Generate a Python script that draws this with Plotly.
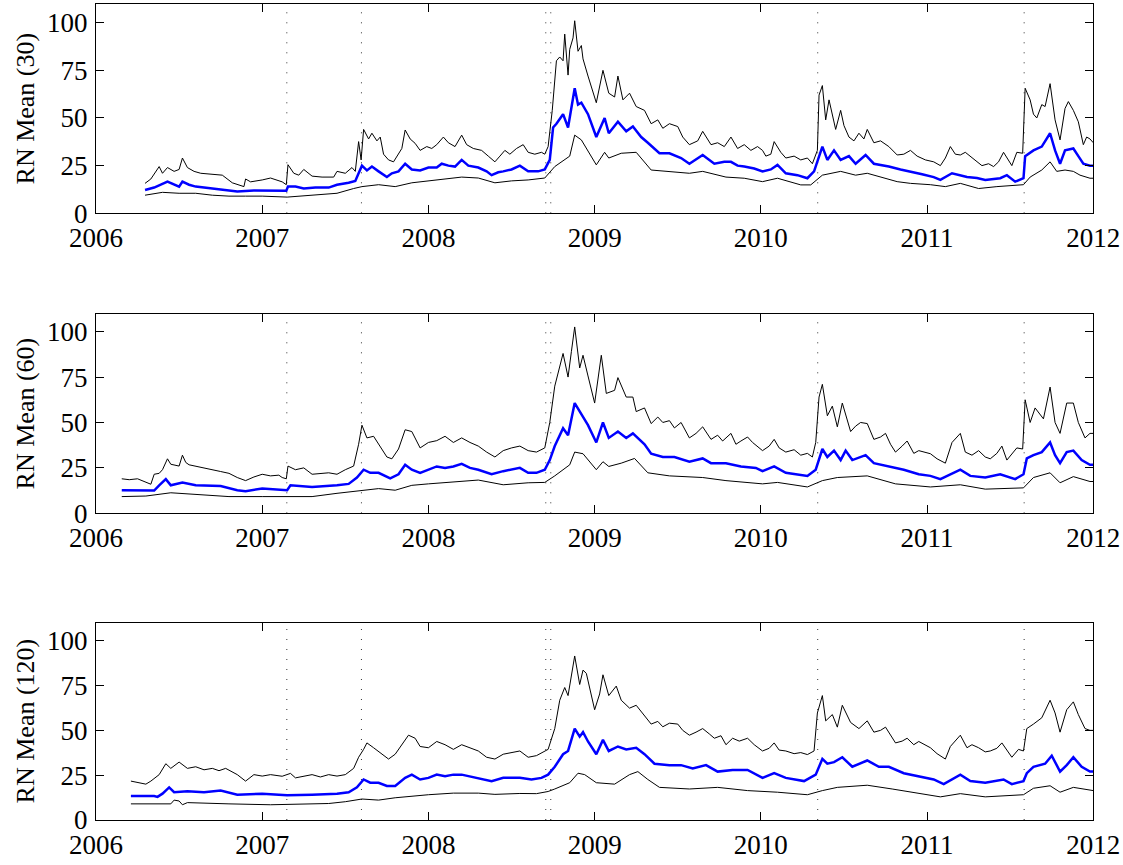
import plotly.graph_objects as go

# ---------------- data (decimal years, values) ----------------
EVENTS = [2007.148, 2007.597, 2008.706, 2008.736, 2010.342, 2011.584]
YLABELS = ["RN Mean (30)", "RN Mean (60)", "RN Mean (120)"]
XTICKS = [2006, 2007, 2008, 2009, 2010, 2011, 2012]
YTICKS = [0, 25, 50, 75, 100]

# Panel 1 (30)
p1_up_t = [2006.295, 2006.33, 2006.38, 2006.40, 2006.43, 2006.47, 2006.50, 2006.52, 2006.55, 2006.59, 2006.63, 2006.70, 2006.76, 2006.82, 2006.86, 2006.89, 2006.90, 2006.93, 2007.00, 2007.05, 2007.12, 2007.145, 2007.155, 2007.19, 2007.22, 2007.25, 2007.30, 2007.36, 2007.43, 2007.45, 2007.50, 2007.54, 2007.56, 2007.58, 2007.595, 2007.61, 2007.64, 2007.66, 2007.69, 2007.71, 2007.73, 2007.76, 2007.79, 2007.81, 2007.84, 2007.86, 2007.89, 2007.92, 2007.95, 2007.99, 2008.02, 2008.05, 2008.09, 2008.12, 2008.16, 2008.20, 2008.23, 2008.27, 2008.32, 2008.36, 2008.40, 2008.43, 2008.46, 2008.49, 2008.53, 2008.57, 2008.60, 2008.64, 2008.68, 2008.70, 2008.72, 2008.745, 2008.77, 2008.79, 2008.81, 2008.82, 2008.84, 2008.85, 2008.87, 2008.88, 2008.90, 2008.92, 2008.93, 2008.96, 2008.98, 2009.01, 2009.05, 2009.085, 2009.12, 2009.14, 2009.17, 2009.21, 2009.25, 2009.30, 2009.34, 2009.38, 2009.41, 2009.45, 2009.50, 2009.53, 2009.57, 2009.62, 2009.65, 2009.70, 2009.74, 2009.78, 2009.82, 2009.86, 2009.90, 2009.94, 2009.98, 2010.01, 2010.03, 2010.06, 2010.08, 2010.12, 2010.15, 2010.20, 2010.24, 2010.28, 2010.31, 2010.34, 2010.35, 2010.37, 2010.39, 2010.41, 2010.45, 2010.48, 2010.50, 2010.53, 2010.56, 2010.59, 2010.62, 2010.64, 2010.68, 2010.72, 2010.77, 2010.82, 2010.86, 2010.90, 2010.94, 2010.99, 2011.04, 2011.08, 2011.11, 2011.14, 2011.17, 2011.20, 2011.23, 2011.26, 2011.30, 2011.33, 2011.37, 2011.40, 2011.43, 2011.46, 2011.51, 2011.54, 2011.575, 2011.59, 2011.62, 2011.64, 2011.66, 2011.69, 2011.71, 2011.74, 2011.77, 2011.80, 2011.83, 2011.85, 2011.88, 2011.91, 2011.94, 2011.96, 2011.98, 2012.0]
p1_up_v = [15.7, 18, 24.5, 21, 24, 22, 23, 29, 24, 22, 21, 20.5, 20, 16, 15, 14, 18, 16.5, 17.5, 18.5, 16.5, 15, 25.5, 21, 20, 23, 19.5, 19, 19, 22, 21, 24, 22, 37.6, 28, 44, 39, 42, 38, 40, 31, 28, 27, 30, 34, 43.7, 39, 36.7, 33, 35, 34, 36, 40, 37, 35, 41, 36, 34, 33, 30, 27, 30, 33, 31, 34, 36, 32, 31, 32, 31, 35, 54, 80, 82, 80, 94, 72.5, 86, 92, 101, 85, 88, 81, 72, 66, 58, 75, 63, 61, 72, 59.5, 63, 56, 54, 47, 49, 44.6, 47, 45.5, 40, 36, 38, 43, 36, 37, 35, 40, 34, 36, 33, 35, 33, 30, 31, 37.6, 32, 29, 30, 28, 29, 26, 33, 62, 67, 49, 59.5, 44, 54, 46, 40, 38, 42, 39, 44, 37, 38, 35, 30.6, 31, 33, 30, 28, 27, 25, 29, 35, 31, 30.6, 32, 30, 27, 25, 26, 24.5, 27, 32, 25, 32, 31.5, 65.6, 59.5, 52, 50, 57, 56, 68, 49, 38.5, 55, 58.6, 54, 48, 36, 40, 39, 37]

p1_mid_t = [2006.295, 2006.35, 2006.43, 2006.47, 2006.50, 2006.52, 2006.56, 2006.60, 2006.70, 2006.78, 2006.85, 2006.95, 2007.05, 2007.145, 2007.155, 2007.20, 2007.25, 2007.32, 2007.40, 2007.45, 2007.52, 2007.56, 2007.58, 2007.60, 2007.63, 2007.66, 2007.70, 2007.75, 2007.78, 2007.82, 2007.86, 2007.90, 2007.95, 2008.00, 2008.05, 2008.08, 2008.12, 2008.16, 2008.20, 2008.24, 2008.30, 2008.35, 2008.38, 2008.42, 2008.45, 2008.50, 2008.55, 2008.60, 2008.66, 2008.70, 2008.73, 2008.75, 2008.77, 2008.81, 2008.84, 2008.86, 2008.88, 2008.90, 2008.92, 2008.96, 2009.01, 2009.06, 2009.085, 2009.14, 2009.19, 2009.23, 2009.28, 2009.32, 2009.36, 2009.39, 2009.45, 2009.52, 2009.57, 2009.65, 2009.72, 2009.78, 2009.82, 2009.86, 2009.90, 2009.96, 2010.01, 2010.06, 2010.10, 2010.15, 2010.22, 2010.28, 2010.32, 2010.37, 2010.40, 2010.44, 2010.48, 2010.53, 2010.57, 2010.63, 2010.68, 2010.72, 2010.77, 2010.84, 2010.90, 2010.97, 2011.04, 2011.08, 2011.15, 2011.20, 2011.24, 2011.30, 2011.35, 2011.44, 2011.48, 2011.53, 2011.58, 2011.59, 2011.64, 2011.69, 2011.74, 2011.77, 2011.80, 2011.83, 2011.88, 2011.91, 2011.94, 2011.98, 2012.0]
p1_mid_v = [12.2, 13.5, 16.6, 15, 14, 16.6, 15, 14, 13, 12, 11.5, 12, 12, 11.8, 14, 14, 13, 13.5, 13.5, 15, 16, 17, 21, 25, 22.5, 24.5, 22, 19, 21, 22, 26, 23, 22.5, 24, 24, 26, 25, 24.5, 28, 25, 24, 22, 20, 21.5, 22, 23, 25, 22, 22, 23, 28, 45, 47, 52, 45, 55, 65.6, 57, 58, 52, 40, 50, 42, 48, 43, 45.5, 40, 37, 34, 31.5, 31.5, 29, 26, 30.6, 26, 27, 27, 25, 24.5, 23.5, 22, 23, 25.4, 21, 20, 18.4, 22, 35, 28, 33, 28, 30, 26, 30.6, 26, 25.5, 24.5, 23, 22, 20.5, 19, 17.5, 21, 20, 19, 18.5, 17.5, 18.4, 20, 16.6, 18.4, 30, 33, 35, 42, 33, 26, 33, 34, 30, 26, 25, 25]

p1_low_t = [2006.295, 2006.40, 2006.50, 2006.60, 2006.70, 2006.80, 2006.90, 2007.00, 2007.15, 2007.30, 2007.45, 2007.55, 2007.60, 2007.70, 2007.80, 2007.90, 2008.00, 2008.10, 2008.20, 2008.30, 2008.40, 2008.50, 2008.60, 2008.70, 2008.76, 2008.85, 2008.88, 2008.92, 2008.96, 2009.01, 2009.06, 2009.085, 2009.16, 2009.25, 2009.34, 2009.45, 2009.57, 2009.65, 2009.79, 2009.90, 2010.01, 2010.10, 2010.24, 2010.30, 2010.37, 2010.48, 2010.57, 2010.64, 2010.73, 2010.82, 2010.90, 2011.02, 2011.11, 2011.20, 2011.31, 2011.42, 2011.58, 2011.62, 2011.69, 2011.74, 2011.78, 2011.83, 2011.88, 2011.92, 2011.98, 2012.0]
p1_low_v = [9.5, 11, 10.5, 10.5, 9.5, 9, 9, 9, 8.5, 9.5, 10.5, 13, 14, 15, 14, 16, 17, 18, 19, 18.5, 16, 17, 17.5, 18.5, 24.5, 30, 41, 38.5, 33, 25.4, 32, 29, 31.5, 32, 22.7, 22, 21, 22, 19, 18.4, 16.6, 18.4, 14.9, 14.9, 20, 22, 20, 21, 19, 16.6, 15.7, 15, 14, 15.7, 13, 14, 15, 19, 22.7, 27, 22, 22.7, 22, 20, 18.4, 18.4]

# Panel 2 (60)
p2_up_t = [2006.155, 2006.20, 2006.25, 2006.28, 2006.30, 2006.33, 2006.35, 2006.38, 2006.40, 2006.43, 2006.45, 2006.47, 2006.50, 2006.52, 2006.54, 2006.56, 2006.60, 2006.65, 2006.70, 2006.75, 2006.80, 2006.85, 2006.90, 2006.95, 2007.00, 2007.05, 2007.10, 2007.12, 2007.145, 2007.155, 2007.20, 2007.25, 2007.30, 2007.35, 2007.40, 2007.45, 2007.50, 2007.55, 2007.58, 2007.60, 2007.63, 2007.67, 2007.70, 2007.75, 2007.78, 2007.82, 2007.86, 2007.90, 2007.95, 2008.00, 2008.05, 2008.10, 2008.15, 2008.20, 2008.25, 2008.30, 2008.35, 2008.40, 2008.45, 2008.50, 2008.55, 2008.60, 2008.65, 2008.70, 2008.73, 2008.76, 2008.81, 2008.84, 2008.86, 2008.88, 2008.91, 2008.93, 2008.96, 2009.00, 2009.04, 2009.07, 2009.12, 2009.14, 2009.19, 2009.23, 2009.25, 2009.30, 2009.34, 2009.38, 2009.41, 2009.45, 2009.48, 2009.52, 2009.57, 2009.61, 2009.65, 2009.70, 2009.74, 2009.77, 2009.82, 2009.85, 2009.88, 2009.92, 2009.95, 2010.01, 2010.05, 2010.08, 2010.11, 2010.15, 2010.20, 2010.24, 2010.28, 2010.31, 2010.33, 2010.35, 2010.37, 2010.40, 2010.43, 2010.46, 2010.49, 2010.54, 2010.57, 2010.60, 2010.64, 2010.68, 2010.72, 2010.75, 2010.78, 2010.81, 2010.85, 2010.88, 2010.92, 2010.95, 2011.02, 2011.06, 2011.11, 2011.15, 2011.20, 2011.23, 2011.27, 2011.31, 2011.35, 2011.38, 2011.42, 2011.45, 2011.48, 2011.54, 2011.575, 2011.59, 2011.62, 2011.65, 2011.70, 2011.74, 2011.77, 2011.80, 2011.84, 2011.88, 2011.91, 2011.95, 2011.98, 2012.0]
p2_up_v = [19, 18.5, 19, 18, 17, 16, 21.5, 22, 24, 30, 27, 26.7, 26, 32, 28, 26.7, 26, 25, 24, 23, 22, 19.7, 18, 20, 21.5, 20.6, 21, 19.7, 19, 26, 24, 25, 21.5, 22, 22.3, 21.5, 24, 26, 38, 48.5, 41.5, 42.4, 38, 31, 30, 35.4, 46, 45, 36, 39, 40, 42.4, 39, 41.5, 39, 37, 33.7, 31, 34.5, 36, 37, 34.5, 33.7, 36, 50, 70, 88, 75, 89, 102.6, 80, 87, 75.6, 60.7, 87, 66, 67.7, 74.7, 64, 64, 56, 58, 49.4, 53, 50, 51, 47, 50, 41.5, 44, 47.6, 40.7, 43, 39.8, 44, 38, 39.8, 42, 39, 34.5, 37, 40.7, 36, 33.7, 35, 32, 33, 31, 39, 64, 71, 53.7, 59, 47.6, 60.7, 45, 48, 50, 49.4, 40.7, 42, 44, 38, 33.7, 37, 39.8, 33, 34.5, 32.8, 30, 27.6, 39, 44, 33.7, 32, 34.5, 31, 30, 33, 37, 29.3, 36, 35.4, 62.5, 50, 58, 52, 69.5, 50, 44, 60.7, 60.7, 50, 41.5, 44, 44]

p2_mid_t = [2006.155, 2006.35, 2006.38, 2006.42, 2006.45, 2006.52, 2006.60, 2006.75, 2006.85, 2006.90, 2007.00, 2007.15, 2007.17, 2007.30, 2007.45, 2007.52, 2007.57, 2007.61, 2007.65, 2007.70, 2007.77, 2007.82, 2007.86, 2007.90, 2007.95, 2008.00, 2008.05, 2008.10, 2008.15, 2008.20, 2008.25, 2008.30, 2008.38, 2008.45, 2008.55, 2008.60, 2008.65, 2008.70, 2008.73, 2008.76, 2008.81, 2008.84, 2008.88, 2008.92, 2008.96, 2009.01, 2009.05, 2009.085, 2009.14, 2009.19, 2009.23, 2009.30, 2009.34, 2009.41, 2009.48, 2009.57, 2009.65, 2009.70, 2009.79, 2009.88, 2009.97, 2010.01, 2010.08, 2010.15, 2010.28, 2010.33, 2010.37, 2010.40, 2010.44, 2010.48, 2010.51, 2010.55, 2010.63, 2010.68, 2010.77, 2010.86, 2010.95, 2011.02, 2011.08, 2011.20, 2011.26, 2011.35, 2011.44, 2011.53, 2011.58, 2011.60, 2011.64, 2011.69, 2011.74, 2011.77, 2011.80, 2011.84, 2011.88, 2011.93, 2011.98, 2012.0]
p2_mid_v = [12.7, 12.5, 15.4, 18.8, 15.4, 17, 15.4, 15, 12.7, 12.2, 13.6, 12.7, 15.4, 14.5, 15.4, 16.2, 19.7, 24, 22.3, 22.3, 19.2, 21.5, 26.7, 24, 22.3, 24, 25.8, 25, 25.8, 27.2, 25, 24, 21.5, 23.2, 25, 22.3, 22.3, 24, 29.3, 37, 46.8, 43, 60.7, 54.6, 48.5, 39, 50, 41.5, 45, 41.5, 44, 38, 32.8, 31, 31, 28.4, 30.2, 27.6, 27.6, 25.8, 25, 23.2, 25.8, 22.3, 20.6, 24, 35.4, 31, 34.5, 29.3, 34.5, 29.3, 32, 27.6, 25.8, 24, 21.5, 20.6, 18.8, 24, 20.6, 19.7, 21.5, 18.8, 21.5, 30.2, 32, 33.7, 39, 32, 27.6, 33.7, 34.5, 29.3, 26.7, 26.7]

p2_low_t = [2006.155, 2006.30, 2006.45, 2006.55, 2006.80, 2007.00, 2007.30, 2007.45, 2007.60, 2007.70, 2007.80, 2007.90, 2008.00, 2008.10, 2008.30, 2008.45, 2008.60, 2008.70, 2008.76, 2008.85, 2008.88, 2008.93, 2009.01, 2009.05, 2009.085, 2009.16, 2009.24, 2009.32, 2009.45, 2009.65, 2009.79, 2010.01, 2010.10, 2010.28, 2010.37, 2010.46, 2010.64, 2010.81, 2011.02, 2011.20, 2011.35, 2011.58, 2011.64, 2011.74, 2011.80, 2011.88, 2011.98, 2012.0]
p2_low_v = [9.2, 9.5, 11.3, 10.6, 9.2, 9.2, 9.2, 11, 12.7, 13.6, 12.7, 15.4, 16.2, 17, 18.3, 15.7, 16.8, 17, 20.6, 26.7, 33.7, 32.8, 24, 28.4, 25.8, 27.6, 30.2, 22.3, 20.6, 19.7, 18, 16.2, 17, 14.5, 18, 19.7, 20.6, 16.2, 14.5, 15.7, 13.3, 14, 19.7, 22.3, 16.8, 20.2, 17.5, 17.5]

# Panel 3 (120)
p3_up_t = [2006.21, 2006.25, 2006.30, 2006.33, 2006.38, 2006.42, 2006.45, 2006.50, 2006.55, 2006.60, 2006.65, 2006.70, 2006.74, 2006.78, 2006.82, 2006.85, 2006.90, 2006.95, 2007.00, 2007.05, 2007.12, 2007.17, 2007.20, 2007.25, 2007.30, 2007.35, 2007.40, 2007.45, 2007.50, 2007.55, 2007.58, 2007.61, 2007.63, 2007.67, 2007.72, 2007.76, 2007.80, 2007.84, 2007.88, 2007.92, 2007.95, 2008.00, 2008.05, 2008.10, 2008.15, 2008.20, 2008.25, 2008.30, 2008.35, 2008.40, 2008.45, 2008.50, 2008.55, 2008.60, 2008.65, 2008.72, 2008.76, 2008.79, 2008.82, 2008.84, 2008.86, 2008.88, 2008.91, 2008.93, 2008.95, 2008.97, 2009.00, 2009.03, 2009.05, 2009.085, 2009.13, 2009.16, 2009.21, 2009.25, 2009.30, 2009.34, 2009.38, 2009.41, 2009.45, 2009.50, 2009.53, 2009.57, 2009.61, 2009.65, 2009.69, 2009.72, 2009.76, 2009.79, 2009.83, 2009.87, 2009.92, 2009.96, 2010.01, 2010.05, 2010.08, 2010.11, 2010.15, 2010.20, 2010.24, 2010.28, 2010.32, 2010.34, 2010.37, 2010.39, 2010.43, 2010.46, 2010.49, 2010.54, 2010.59, 2010.64, 2010.68, 2010.72, 2010.75, 2010.78, 2010.81, 2010.85, 2010.88, 2010.92, 2010.95, 2011.02, 2011.06, 2011.11, 2011.14, 2011.20, 2011.24, 2011.27, 2011.31, 2011.35, 2011.38, 2011.42, 2011.45, 2011.51, 2011.55, 2011.58, 2011.60, 2011.64, 2011.69, 2011.74, 2011.77, 2011.80, 2011.84, 2011.88, 2011.91, 2011.95, 2011.98, 2012.0]
p3_up_v = [21.7, 20.8, 20, 21.7, 25.3, 31.4, 28.8, 32.3, 28.8, 29.7, 28, 28.8, 27.5, 28.8, 27, 25.3, 21.7, 25.3, 24.5, 25.3, 24.4, 26, 23.5, 24.5, 25.3, 24, 25.3, 24.5, 25.3, 28.8, 35, 39.4, 43, 40.3, 36.7, 34, 36.7, 42, 47.3, 45.6, 41, 40.3, 43.8, 42, 39.4, 42, 40.3, 38.5, 35, 34, 36.7, 37.6, 38.5, 35, 35.9, 39.4, 51, 66.8, 73.9, 69.4, 81, 91.5, 75.6, 83.6, 81.8, 73.9, 61.5, 70.3, 81, 69.4, 74.7, 66.8, 62.4, 64, 58, 53.5, 55, 52, 54, 53.5, 50, 47.3, 49, 51, 48, 45.6, 47, 42, 45.6, 44, 45.6, 42, 38.5, 40, 43, 39, 38.5, 37, 37.6, 36.5, 38.5, 59.7, 69.4, 55.3, 58.8, 51.8, 64, 54.4, 51, 55.3, 49, 50, 51.8, 47, 43, 44, 45.6, 42, 43.8, 40.3, 37, 34, 41, 47.3, 40.3, 42, 40.3, 38, 38.5, 40, 43, 35, 39.4, 38.5, 51, 53.5, 57, 66.8, 59.7, 49, 61.5, 65.9, 58.8, 51, 50, 50]

p3_mid_t = [2006.21, 2006.35, 2006.37, 2006.40, 2006.44, 2006.47, 2006.55, 2006.65, 2006.75, 2006.85, 2007.00, 2007.15, 2007.30, 2007.45, 2007.52, 2007.57, 2007.61, 2007.65, 2007.70, 2007.75, 2007.80, 2007.86, 2007.90, 2007.95, 2008.00, 2008.05, 2008.10, 2008.15, 2008.20, 2008.30, 2008.38, 2008.45, 2008.55, 2008.62, 2008.68, 2008.72, 2008.76, 2008.81, 2008.84, 2008.88, 2008.91, 2008.93, 2008.96, 2009.01, 2009.05, 2009.085, 2009.14, 2009.19, 2009.25, 2009.30, 2009.36, 2009.45, 2009.52, 2009.59, 2009.67, 2009.74, 2009.83, 2009.92, 2010.01, 2010.08, 2010.15, 2010.26, 2010.33, 2010.37, 2010.40, 2010.44, 2010.49, 2010.55, 2010.64, 2010.71, 2010.77, 2010.86, 2010.95, 2011.04, 2011.10, 2011.20, 2011.26, 2011.35, 2011.46, 2011.51, 2011.58, 2011.60, 2011.64, 2011.71, 2011.75, 2011.80, 2011.84, 2011.88, 2011.93, 2011.98, 2012.0]
p3_mid_v = [13.4, 13.4, 12.9, 14.7, 18.2, 15.5, 16, 15.5, 16.4, 14.1, 14.7, 13.8, 14.1, 14.7, 15.5, 18.2, 22.6, 20.8, 20.8, 19, 19, 23.5, 25.3, 22.6, 23.5, 25.3, 24.4, 25.3, 25.3, 23.5, 21.7, 23.5, 23.5, 22.6, 23.5, 25.3, 29.7, 36.7, 38.5, 51, 46.5, 49, 43.8, 36.7, 44.7, 38.5, 41, 39.4, 40.3, 36.7, 31.4, 30.6, 30.6, 28.8, 30.6, 27, 27.9, 27.9, 23.5, 26.1, 23.5, 21.7, 25.3, 34.1, 31.4, 32.3, 35, 29.7, 33.2, 29.7, 29.7, 26.1, 24.4, 22.6, 20, 25.3, 21.7, 20.8, 22.6, 20, 21.7, 26.1, 29.7, 31.4, 35.9, 27, 30.6, 35, 29.7, 27, 27]

p3_low_t = [2006.21, 2006.45, 2006.47, 2006.50, 2006.52, 2006.55, 2006.80, 2007.05, 2007.40, 2007.50, 2007.60, 2007.70, 2007.80, 2007.90, 2008.00, 2008.15, 2008.30, 2008.40, 2008.55, 2008.65, 2008.72, 2008.76, 2008.85, 2008.90, 2008.94, 2009.01, 2009.12, 2009.21, 2009.26, 2009.32, 2009.39, 2009.57, 2009.74, 2009.92, 2010.10, 2010.28, 2010.37, 2010.46, 2010.64, 2010.79, 2010.91, 2011.08, 2011.20, 2011.35, 2011.58, 2011.64, 2011.74, 2011.80, 2011.88, 2011.98, 2012.0]
p3_low_v = [9, 9, 11.1, 10.6, 8.5, 9.7, 9, 8.5, 9.2, 10.2, 11.7, 11.1, 12.4, 13.4, 14.1, 15, 15, 14.3, 14.8, 14.7, 15.9, 17.3, 20.8, 26.1, 25.3, 20.8, 20, 25.3, 27, 22.6, 18.2, 17.3, 18.2, 16.4, 15.5, 14.1, 16.4, 18.2, 19.4, 17.3, 15.5, 12.9, 14.7, 12.9, 14.1, 17.7, 19.1, 15.5, 18.2, 16.4, 16.4]

PANELS = [
    (p1_up_t, p1_up_v, p1_mid_t, p1_mid_v, p1_low_t, p1_low_v),
    (p2_up_t, p2_up_v, p2_mid_t, p2_mid_v, p2_low_t, p2_low_v),
    (p3_up_t, p3_up_v, p3_mid_t, p3_mid_v, p3_low_t, p3_low_v),
]

# ---------------- layout geometry (pixels) ----------------
W, H = 1123, 865
X_LEFT, X_RIGHT = 96, 1093.3
# (pixel y of value 0, pixel y of value 110)
PANEL_PX = [(213.3, 3.6), (513.3, 313.5), (820.0, 622.8)]

FONT = "Liberation Serif"
fig = go.Figure()

for i, (ut, uv, mt, mv, lt, lv) in enumerate(PANELS):
    n = "" if i == 0 else str(i + 1)
    xa, ya = "x" + n, "y" + n
    fig.add_trace(go.Scatter(x=lt, y=lv, mode="lines", line=dict(color="black", width=1),
                             xaxis=xa, yaxis=ya, showlegend=False, hoverinfo="skip"))
    fig.add_trace(go.Scatter(x=ut, y=uv, mode="lines", line=dict(color="black", width=1),
                             xaxis=xa, yaxis=ya, showlegend=False, hoverinfo="skip"))
    fig.add_trace(go.Scatter(x=mt, y=mv, mode="lines", line=dict(color="#0000ff", width=2.5),
                             xaxis=xa, yaxis=ya, showlegend=False, hoverinfo="skip"))

    bot, top = PANEL_PX[i]
    ydom = [1 - bot / H, 1 - top / H]
    axis_common = dict(showline=True, linecolor="black", linewidth=1.3, mirror="ticks",
                       ticks="inside", ticklen=8, tickwidth=1, tickcolor="black",
                       showgrid=False, zeroline=False, automargin=False,
                       tickfont=dict(family=FONT, size=27, color="black"))
    fig.update_layout(**{
        "xaxis" + n: dict(domain=[X_LEFT / W, X_RIGHT / W], range=[2006, 2012],
                          tickvals=XTICKS, ticktext=[str(t) for t in XTICKS],
                          anchor=ya, ticklabelstandoff=0, **axis_common),
        "yaxis" + n: dict(domain=ydom, range=[0, 110], tickvals=YTICKS,
                          anchor=xa, ticklabelstandoff=2, **axis_common),
    })
    for e in EVENTS:
        fig.add_shape(type="line", xref=xa, yref=ya + " domain", x0=e, x1=e, y0=0, y1=1,
                      line=dict(color="#333333", width=1, dash="1px,9px"), layer="below")
    fig.add_annotation(text=YLABELS[i], textangle=-90, xref="paper", yref="paper",
                       x=25 / W, y=(ydom[0] + ydom[1]) / 2, xanchor="center", yanchor="middle",
                       showarrow=False, font=dict(family=FONT, size=26, color="black"))

fig.update_layout(width=W, height=H, margin=dict(l=0, r=0, t=0, b=0),
                  paper_bgcolor="white", plot_bgcolor="white")
fig.write_html("out.html")
